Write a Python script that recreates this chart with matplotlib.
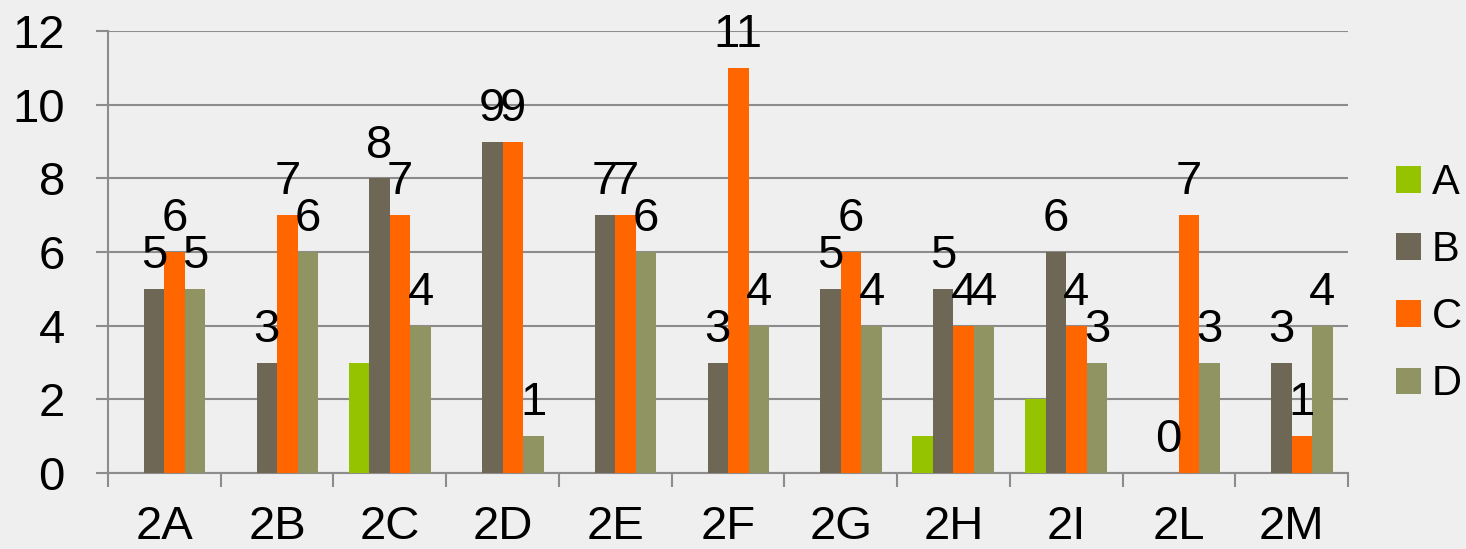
import numpy as np
import matplotlib.pyplot as plt
from matplotlib.patches import Patch

plt.rcParams['font.family'] = ['Liberation Sans', 'DejaVu Sans']

# data
classes = ["2A", "2B", "2C", "2D", "2E", "2F", "2G", "2H", "2I", "2L", "2M"]
series_names = ["A", "B", "C", "D"]
vals_a = [0, 0, 3, 0, 0, 0, 0, 1, 2, 0, 0]
vals_b = [5, 3, 8, 9, 7, 3, 5, 5, 6, 0, 3]
vals_c = [6, 7, 7, 9, 7, 11, 6, 4, 4, 7, 1]
vals_d = [5, 6, 4, 1, 6, 4, 4, 4, 3, 3, 4]
colors = ["#95c300", "#6f6755", "#ff6600", "#8f9462"]
labelled = [False, True, True, True]

fs = 34
bg = "#efefef"
fig = plt.figure(figsize=(14.66, 5.49), dpi=100, facecolor=bg)
ax = fig.add_axes([0.0737, 0.1384, 0.8458, 0.8051], facecolor=bg)

x = np.arange(len(classes))
w = 0.182
all_vals = [vals_a, vals_b, vals_c, vals_d]
for i, (vals, col) in enumerate(zip(all_vals, colors)):
    pos = x + (i - 1.5) * w
    ax.bar(pos, vals, width=w, color=col, zorder=3)
    if labelled[i]:
        for px, v in zip(pos, vals):
            ax.annotate(str(v), (px, v), xytext=(0, 15), textcoords="offset points",
                        ha="center", va="baseline", fontsize=fs, zorder=4)

ax.set_xlim(-0.5, len(classes) - 0.5)
ax.set_ylim(0, 12)
ax.set_yticks(range(0, 13, 2))
ax.yaxis.grid(True, color="#8c8c8c", linewidth=1.5, zorder=0)

# category boundaries as ticks, labels in the middle
ax.set_xticks(np.arange(-0.5, len(classes), 1.0))
ax.set_xticklabels([])
ax.set_xticks(x, minor=True)
ax.set_xticklabels(classes, minor=True, fontsize=fs)
ax.tick_params(axis="x", which="major", length=10, width=1.5, color="#8c8c8c")
ax.tick_params(axis="x", which="minor", length=0, pad=23)
ax.tick_params(axis="y", length=9, width=1.5, color="#8c8c8c", labelsize=fs, pad=22)

for s in ["top", "right"]:
    ax.spines[s].set_visible(False)
for s in ["left", "bottom"]:
    ax.spines[s].set_color("#8c8c8c")
    ax.spines[s].set_linewidth(1.5)

handles = [Patch(facecolor=c, edgecolor="none") for c in colors]
fig.legend(handles, series_names, loc="center left", bbox_to_anchor=(0.952, 0.483),
           frameon=False, fontsize=30, handlelength=0.6, handleheight=0.6,
           handletextpad=0.26, labelspacing=0.65, borderpad=0, borderaxespad=0)

fig.savefig("out.png", dpi=100, facecolor=bg)
